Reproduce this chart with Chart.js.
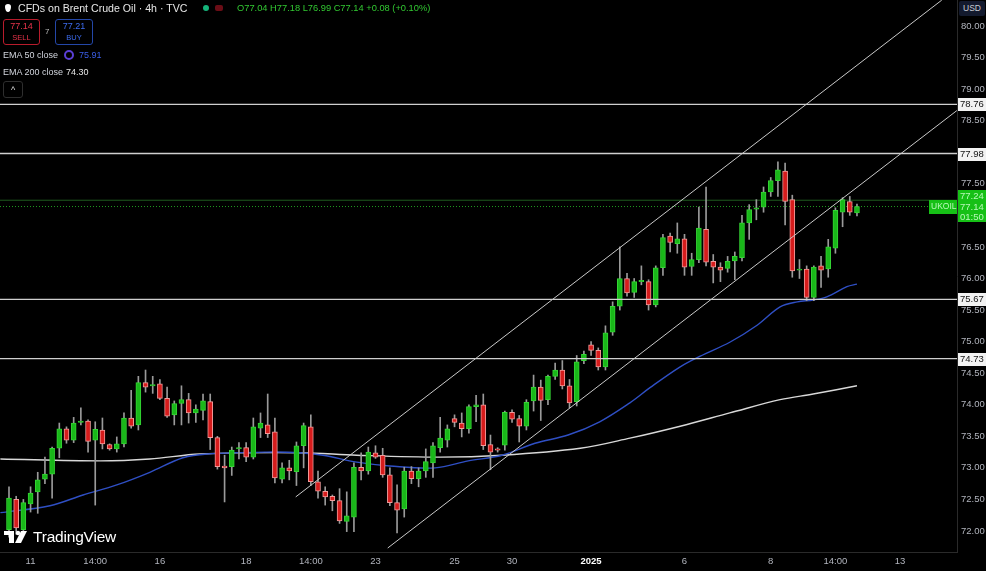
<!DOCTYPE html>
<html>
<head>
<meta charset="utf-8">
<title>CFDs on Brent Crude Oil · 4h · TVC</title>
<script src="https://cdn.jsdelivr.net/npm/chart.js@4.4.1/dist/chart.umd.min.js"></script>
<style>
  html, body { margin: 0; padding: 0; background: #000; }
  #wrap { position: relative; width: 986px; height: 571px; overflow: hidden; font-family: "Liberation Sans", Arial, sans-serif; }
  #wrap canvas { position: absolute; left: 0; top: 0; }
  .ov { position: absolute; white-space: nowrap; line-height: 1; }
  .box { position: absolute; border-radius: 3px; text-align: center; font-size: 9px; line-height: 11px; padding-top: 1px; box-sizing: border-box; }
</style>
</head>
<body>
<div id="wrap">
  <canvas id="chart" width="986" height="571"></canvas>

  <div class="ov" style="left:5px;top:4px;width:6px;height:8px;background:#fff;border-radius:50% 50% 50% 50% / 35% 35% 65% 65%;"></div>
  <div class="ov" style="left:18px;top:3px;font-size:10.6px;color:#e6e6e6;">CFDs on Brent Crude Oil · 4h · TVC</div>
  <div class="ov" style="left:203px;top:5px;width:6px;height:6px;border-radius:50%;background:#15b37a;"></div>
  <div class="ov" style="left:215px;top:5px;width:8px;height:6px;border-radius:2px;background:#6b0d16;"></div>
  <div class="ov" style="left:237px;top:4px;font-size:9.3px;color:#32c832;">O77.04 H77.18 L76.99 C77.14 +0.08 (+0.10%)</div>

  <div class="box" style="left:3px;top:19px;width:37px;height:26px;border:1px solid #b81c2c;color:#e8334a;">77.14<br><span style="font-size:7.5px;">SELL</span></div>
  <div class="ov" style="left:45px;top:28px;font-size:8px;color:#bbb;">7</div>
  <div class="box" style="left:55px;top:19px;width:38px;height:26px;border:1px solid #2447a8;color:#3d6cf0;">77.21<br><span style="font-size:7.5px;">BUY</span></div>

  <div class="ov" style="left:3px;top:51px;font-size:9px;color:#d1d4dc;">EMA 50 close</div>
  <div class="ov" style="left:64px;top:50px;width:6px;height:6px;border:2px solid #5b3fd6;border-radius:50%;"></div>
  <div class="ov" style="left:79px;top:51px;font-size:9px;color:#3a5ee8;">75.91</div>
  <div class="ov" style="left:3px;top:68px;font-size:9px;color:#d1d4dc;">EMA 200 close</div>
  <div class="ov" style="left:66px;top:68px;font-size:9px;color:#e6e6e6;">74.30</div>
  <div class="ov" style="left:3px;top:81px;width:18px;height:15px;border:1px solid #2e2e2e;border-radius:3px;color:#ddd;font-size:9px;text-align:center;line-height:17px;">^</div>

  <div class="ov" style="left:959px;top:1px;width:26px;height:15px;background:#131a2e;border-radius:2px;color:#c8cbd4;font-size:8.5px;text-align:center;line-height:15px;">USD</div>

  <svg class="ov" style="left:4px;top:529px;" width="26" height="16" viewBox="0 0 26 16">
    <rect x="0" y="2" width="10" height="4" fill="#fff"/>
    <rect x="5" y="2" width="5" height="12" fill="#fff"/>
    <circle cx="14" cy="4" r="2.2" fill="#fff"/>
    <polygon points="17,2 23,2 17,14 11,14" fill="#fff"/>
  </svg>
  <div class="ov" style="left:33px;top:529px;font-size:15.5px;color:#fff;letter-spacing:-0.2px;">TradingView</div>
</div>

<script>
// OHLC per 4h candle
const opens = [
  72.02, 72.50, 72.02, 72.43, 72.62, 72.82, 72.90, 73.31, 73.62, 73.44,
  73.72, 73.74, 73.44, 73.60, 73.37, 73.30, 73.38, 73.79, 73.68, 74.35,
  74.30, 74.33, 74.10, 73.84, 74.02, 74.08, 73.87, 73.91, 74.05, 73.48,
  73.03, 73.02, 73.30, 73.32, 73.17, 73.63, 73.68, 73.57, 72.82, 73.00,
  72.94, 73.35, 73.65, 72.78, 72.63, 72.55, 72.48, 72.15, 72.22, 73.01,
  72.95, 73.24, 73.20, 72.89, 72.45, 72.35, 72.95, 72.83, 72.95, 73.08,
  73.32, 73.44, 73.78, 73.71, 73.62, 73.97, 74.00, 73.37, 73.30, 73.36,
  73.88, 73.78, 73.66, 74.06, 74.28, 74.08, 74.45, 74.55, 74.30, 74.05,
  74.70, 74.95, 74.86, 74.60, 75.15, 75.56, 76.00, 75.78, 75.95, 75.95,
  75.58, 76.17, 76.67, 76.55, 76.63, 76.19, 76.30, 76.78, 76.27, 76.18,
  76.16, 76.28, 76.33, 76.88, 77.10, 77.13, 77.37, 77.55, 77.70, 77.25,
  76.13, 76.15, 75.70, 76.20, 76.15, 76.48, 77.05, 77.22, 77.04
];
const highs = [
  72.70, 72.55, 72.50, 72.70, 72.93, 73.17, 73.33, 73.71, 73.65, 73.80,
  73.95, 73.76, 73.73, 73.79, 73.38, 73.49, 73.87, 74.23, 74.45, 74.55,
  74.45, 74.40, 74.28, 74.06, 74.30, 74.18, 74.00, 74.17, 74.17, 73.50,
  73.20, 73.33, 73.40, 73.40, 73.79, 73.87, 74.17, 73.79, 73.08, 73.12,
  73.41, 73.71, 73.84, 72.95, 72.70, 72.57, 72.67, 72.62, 73.08, 73.24,
  73.33, 73.35, 73.31, 73.00, 72.73, 73.01, 73.02, 73.00, 73.30, 73.40,
  73.80, 73.68, 73.84, 73.87, 74.00, 74.15, 74.17, 73.52, 73.32, 73.90,
  73.92, 73.83, 74.08, 74.47, 74.39, 74.47, 74.66, 74.70, 74.40, 74.78,
  74.85, 75.00, 74.90, 75.25, 75.63, 76.50, 76.08, 76.00, 76.20, 75.98,
  76.20, 76.70, 76.72, 76.88, 76.70, 76.40, 77.13, 77.45, 76.38, 76.25,
  76.35, 76.42, 77.00, 77.17, 77.25, 77.45, 77.60, 77.85, 77.83, 77.32,
  76.30, 76.20, 76.20, 76.35, 76.62, 77.12, 77.28, 77.30, 77.18
];
const lows = [
  71.90, 71.95, 71.95, 72.30, 72.28, 72.75, 72.52, 73.16, 73.39, 73.40,
  73.68, 73.25, 72.41, 73.30, 73.28, 73.25, 73.33, 73.63, 73.60, 74.20,
  74.18, 74.08, 73.80, 73.68, 73.68, 73.71, 73.72, 73.76, 73.29, 72.98,
  72.46, 72.88, 73.14, 73.10, 73.14, 73.48, 73.48, 72.76, 72.76, 72.81,
  72.72, 73.00, 72.72, 72.52, 72.41, 72.32, 72.12, 71.99, 71.99, 72.81,
  72.90, 73.15, 72.85, 72.40, 71.97, 72.22, 72.75, 72.70, 72.85, 72.85,
  73.25, 73.33, 73.65, 73.49, 73.55, 73.73, 73.29, 72.97, 73.25, 73.28,
  73.72, 73.41, 73.60, 73.90, 73.75, 74.00, 74.40, 74.25, 73.95, 73.98,
  74.65, 74.78, 74.55, 74.55, 75.10, 75.50, 75.72, 75.70, 75.90, 75.50,
  75.55, 76.05, 76.42, 76.40, 76.05, 76.05, 76.25, 76.20, 75.93, 75.95,
  76.10, 75.98, 76.28, 76.62, 76.93, 77.05, 77.30, 77.30, 76.85, 76.02,
  76.00, 75.65, 75.65, 75.86, 76.02, 76.40, 76.82, 77.00, 76.99
];
const closes = [
  72.52, 72.05, 72.45, 72.60, 72.81, 72.90, 73.31, 73.62, 73.44, 73.71,
  73.74, 73.42, 73.61, 73.38, 73.30, 73.38, 73.79, 73.66, 74.35, 74.28,
  74.32, 74.10, 73.82, 74.02, 74.08, 73.87, 73.93, 74.06, 73.48, 73.02,
  73.00, 73.28, 73.32, 73.17, 73.65, 73.71, 73.54, 72.84, 73.00, 72.95,
  73.35, 73.67, 72.78, 72.63, 72.54, 72.48, 72.16, 72.24, 73.01, 72.95,
  73.25, 73.17, 72.89, 72.45, 72.33, 72.95, 72.83, 72.95, 73.10, 73.35,
  73.47, 73.62, 73.72, 73.62, 73.97, 74.00, 73.35, 73.25, 73.28, 73.88,
  73.77, 73.66, 74.04, 74.28, 74.07, 74.45, 74.55, 74.30, 74.03, 74.68,
  74.80, 74.86, 74.60, 75.14, 75.56, 76.00, 75.77, 75.95, 75.97, 75.58,
  76.17, 76.65, 76.57, 76.63, 76.18, 76.30, 76.80, 76.26, 76.18, 76.13,
  76.27, 76.35, 76.88, 77.09, 77.12, 77.37, 77.55, 77.72, 77.22, 76.12,
  76.15, 75.70, 76.18, 76.13, 76.50, 77.08, 77.25, 77.05, 77.14
];

// x axis: candle index where each time label sits, and the label text
const tickIdx  = [3, 12, 21, 33, 42, 51, 62, 70, 81, 94, 106, 115, 124];
const tickText = ['11', '14:00', '16', '18', '14:00', '23', '25', '30', '2025', '6', '8', '14:00', '13'];

// EMA lines, read at a few candle positions
const ema50X = [-1.2, 5.7, 10.3, 15.0, 19.6, 24.2, 27.6, 35.9, 40.5, 43.7, 48.4, 53.0, 59.3, 63.9, 68.6,
  73.2, 77.8, 82.2, 86.4, 89.2, 93.4, 96.2, 100.3, 104.1, 107.3, 109.7, 111.9, 113.8, 116.6, 118];
const ema50Y = [72.29, 72.40, 72.57, 72.73, 72.93, 73.16, 73.22, 73.25, 73.24, 73.20, 73.09, 73.03, 73.00, 73.11, 73.20,
  73.39, 73.52, 73.73, 74.03, 74.27, 74.60, 74.77, 74.99, 75.26, 75.55, 75.63, 75.66, 75.71, 75.87, 75.91];
const ema200X = [-1.2, 12.7, 19.6, 26.6, 40.5, 48.4, 60.0, 68.6, 79.5, 86.4, 93.4, 100.3, 107.3, 111.9, 118];
const ema200Y = [73.14, 73.11, 73.14, 73.22, 73.24, 73.20, 73.17, 73.20, 73.31, 73.47, 73.66, 73.87, 74.08, 74.17, 74.30];

// drawn levels and channel
const levels = [78.76, 77.98, 75.67, 74.73];
const channelUpper = [[39.9, 72.54], [129.8, 80.41]];
const channelLower = [[52.7, 71.73], [131.9, 78.66]];
const lastPrice = 77.14;
const askLine = 77.24;

const xMin = -1.252, xMax = 131.92;
const yMin = 71.667, yMax = 80.412;

const UP = '#19b819', UP_EDGE = '#35d435';
const DN = '#d61c1c', DN_EDGE = '#f29a9a';

const isUp = closes.map((c, i) => c >= opens[i]);

const bodies = opens.map((o, i) => ({ x: i, y: [o, closes[i]] }));
const wicks = lows.map((l, i) => ({ x: i, y: [l, highs[i]] }));

function lineSet(points, color, width, extra) {
  return Object.assign({
    type: 'line',
    data: points,
    borderColor: color,
    borderWidth: width,
    pointRadius: 0,
    fill: false,
    tension: 0
  }, extra || {});
}

const datasets = [
  {
    type: 'bar',
    data: bodies,
    backgroundColor: isUp.map(u => u ? UP : DN),
    borderColor: isUp.map(u => u ? UP_EDGE : DN_EDGE),
    borderWidth: 1,
    borderSkipped: false,
    barThickness: 5,
    grouped: false,
    order: 1
  },
  {
    type: 'bar',
    data: wicks,
    backgroundColor: '#9a9a9a',
    borderWidth: 0,
    barThickness: 1,
    grouped: false,
    order: 2
  },
  lineSet(ema50X.map((x, i) => ({ x, y: ema50Y[i] })), '#2f4fc4', 1.4, { tension: 0.35, order: 3 }),
  lineSet(ema200X.map((x, i) => ({ x, y: ema200Y[i] })), '#d8d8d8', 1.4, { tension: 0.35, order: 3 }),
  lineSet([{ x: xMin, y: askLine }, { x: xMax, y: askLine }], '#1f5a1f', 1, { order: 4 }),
  lineSet([{ x: xMin, y: lastPrice }, { x: xMax, y: lastPrice }], '#1f9a1f', 1, { borderDash: [1, 2], order: 4 }),
  lineSet(channelUpper.map(p => ({ x: p[0], y: p[1] })), '#c9c9c9', 1, { order: 0 }),
  lineSet(channelLower.map(p => ({ x: p[0], y: p[1] })), '#c9c9c9', 1, { order: 0 })
];
levels.forEach(v => {
  datasets.push(lineSet([{ x: xMin, y: v }, { x: xMax, y: v }], '#cfcfcf', 1.3, { order: 0 }));
});

// price tags on the right axis
const priceTags = {
  id: 'priceTags',
  afterDraw(chart) {
    const { ctx, chartArea } = chart;
    const y = chart.scales.y;
    const x0 = chartArea.right;
    ctx.save();
    ctx.textBaseline = 'middle';
    ctx.textAlign = 'left';
    ctx.font = '9.5px "Liberation Sans", Arial, sans-serif';
    levels.forEach(v => {
      const py = Math.round(y.getPixelForValue(v));
      ctx.fillStyle = '#f2f2f2';
      ctx.fillRect(x0 + 1, py - 6, 28, 13);
      ctx.fillStyle = '#111';
      ctx.fillText(v.toFixed(2), x0 + 3, py + 0.5);
    });
    const pl = Math.round(y.getPixelForValue(lastPrice));
    ctx.fillStyle = '#16c016';
    ctx.fillRect(x0 + 1, pl - 17, 28, 32);
    ctx.fillRect(x0 - 28, pl - 7, 28, 14);
    ctx.fillStyle = '#b8f7b8';
    ctx.fillText(askLine.toFixed(2), x0 + 3, pl - 11);
    ctx.fillText(lastPrice.toFixed(2), x0 + 3, pl);
    ctx.fillText('01:50', x0 + 3, pl + 10);
    ctx.font = '8.5px "Liberation Sans", Arial, sans-serif';
    ctx.fillText('UKOIL', x0 - 26, pl);
    ctx.restore();
  }
};

new Chart(document.getElementById('chart'), {
  type: 'bar',
  data: { datasets },
  plugins: [priceTags],
  options: {
    responsive: false,
    animation: false,
    events: [],
    layout: { padding: 0 },
    plugins: { legend: { display: false }, tooltip: { enabled: false } },
    scales: {
      x: {
        type: 'linear',
        min: xMin,
        max: xMax,
        offset: false,
        grid: { display: false, drawTicks: false },
        border: { display: true, color: '#2a2a2a' },
        afterBuildTicks: s => { s.ticks = tickIdx.map(v => ({ value: v })); },
        afterFit: s => { s.height = 19; s.paddingLeft = 0; s.paddingRight = 0; },
        ticks: {
          autoSkip: false,
          maxRotation: 0,
          padding: 4,
          color: ctx => (ctx.tick && ctx.tick.value === 81) ? '#ffffff' : '#b2b5be',
          font: ctx => ({ size: 9.5, family: '"Liberation Sans", Arial, sans-serif', weight: (ctx.tick && ctx.tick.value === 81) ? 'bold' : 'normal' }),
          callback: v => tickText[tickIdx.indexOf(v)]
        }
      },
      y: {
        type: 'linear',
        position: 'right',
        min: yMin,
        max: yMax,
        grid: { display: false, drawTicks: false },
        border: { display: true, color: '#2a2a2a' },
        afterBuildTicks: s => {
          const t = [];
          for (let v = 72; v <= 80.001; v += 0.5) t.push({ value: Math.round(v * 100) / 100 });
          s.ticks = t;
        },
        afterFit: s => { s.width = 29; s.paddingTop = 0; s.paddingBottom = 0; },
        ticks: {
          padding: 4,
          color: '#b2b5be',
          font: { size: 9.5, family: '"Liberation Sans", Arial, sans-serif' },
          callback: v => v.toFixed(2)
        }
      }
    }
  }
});
</script>
</body>
</html>
